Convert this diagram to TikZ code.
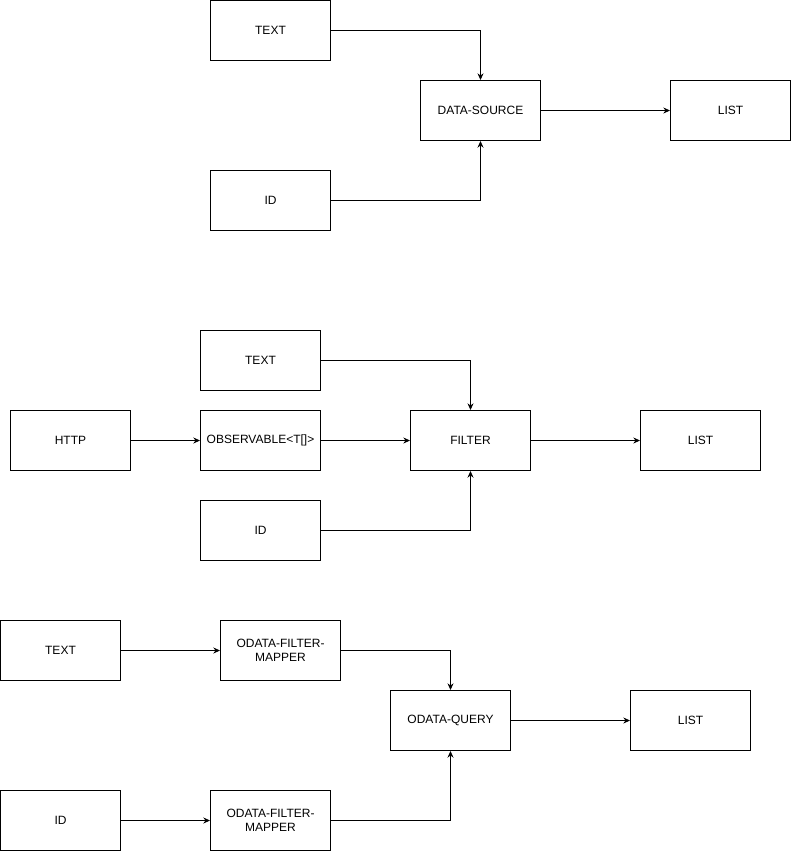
\documentclass[tikz,border=0pt]{standalone}
\usepackage{fontspec}
\setmainfont{Liberation Sans}
\usetikzlibrary{arrows.meta}
\tikzset{
    box/.style={draw,line width=0.75pt,minimum width=90pt,minimum height=45pt,inner sep=1pt,align=center,font=\fontsize{9}{10.5}\selectfont},
    arr/.style={line width=0.75pt,-{Stealth[length=5pt,width=4.5pt]}}
}
\begin{document}
\begin{tikzpicture}[x=0.75pt,y=-0.75pt]
    \useasboundingbox (-0.5,-0.5) rectangle (790.5,850.5);
    \foreach \n/\x/\y/\t in {textA/270/30/TEXT,source/480/110/DATA-SOURCE,listA/730/110/LIST,idA/270/200/ID,
        textB/260/360/TEXT,http/70/440/HTTP,observable/260/440/{OBSERVABLE<T[]>},filter/470/440/FILTER,listB/700/440/LIST,idB/260/530/ID,
        textC/60/650/TEXT,mapperA/280/650/{ODATA-FILTER-\\MAPPER},query/450/720/ODATA-QUERY,listC/690/720/LIST,idC/60/820/ID,mapperB/270/820/{ODATA-FILTER-\\MAPPER}}{
        \node[box] (\n) at (\x,\y) {\t};
    }
    \foreach \a/\b in {textA/source,idA/source,textB/filter,idB/filter,mapperA/query,mapperB/query}{
        \draw[arr] (\a) -| (\b);
    }
    \foreach \a/\b in {source/listA,http/observable,observable/filter,filter/listB,textC/mapperA,idC/mapperB,query/listC}{
        \draw[arr] (\a) -- (\b);
    }
\end{tikzpicture}
\end{document}
